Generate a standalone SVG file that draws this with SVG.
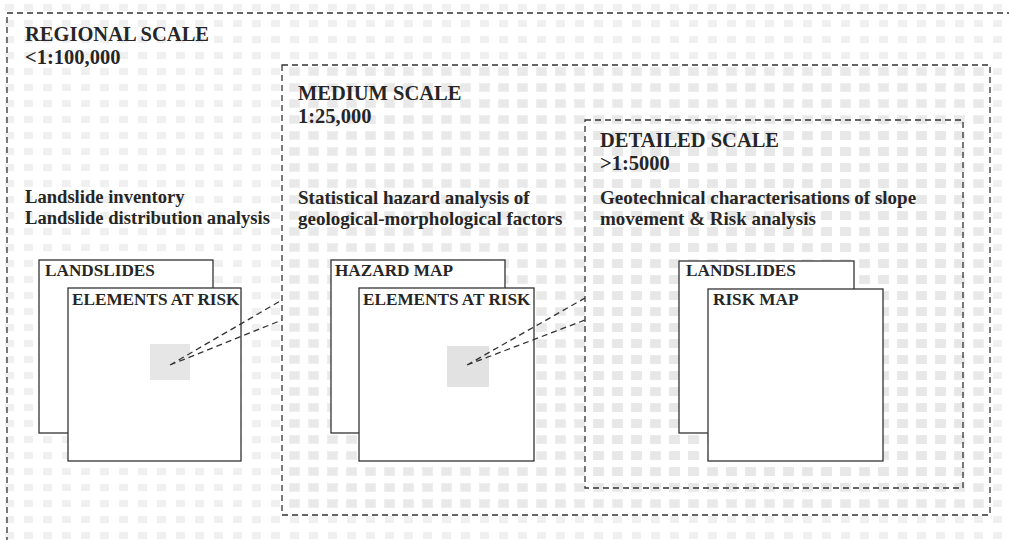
<svg xmlns="http://www.w3.org/2000/svg" width="1009" height="540" viewBox="0 0 1009 540">
<style>
.t{font-family:"Liberation Serif","DejaVu Serif",serif;font-weight:bold;fill:#262626}
.h{font-size:20.5px}
.d{font-size:19px}
.r{font-size:18.6px}
.b{font-size:17.2px}
.zone{fill:none;stroke:#333;stroke-width:1.3;stroke-dasharray:6 4}
.map{fill:#fff;stroke:#333;stroke-width:1.3}
.con{stroke:#333;stroke-width:1.3;stroke-dasharray:6 4;fill:none}
.spot{fill:#d6d6d6}
</style>
<defs>
<pattern id="dots" width="19" height="16" patternUnits="userSpaceOnUse">
<rect x="5" y="4" width="9" height="7" fill="#f0f0f0"/>
</pattern>
<pattern id="dots2" width="19" height="16" patternUnits="userSpaceOnUse">
<rect x="4" y="3" width="11" height="9" fill="#e6e6e6"/>
</pattern>
</defs>
<rect width="1009" height="540" fill="#fff"/>
<rect width="1009" height="540" fill="url(#dots)"/>
<rect x="282" y="65" width="708" height="450" fill="url(#dots2)" opacity="0.7"/>
<rect x="585" y="120" width="378" height="368" fill="url(#dots2)" opacity="0.6"/>

<g id="regional">
<rect class="zone" x="7" y="13" width="1010" height="535"/>
<text class="t h" x="25" y="41">REGIONAL SCALE</text>
<text class="t h" x="25" y="64">&lt;1:100,000</text>
<text class="t r" x="25" y="203">Landslide inventory</text>
<text class="t r" x="25" y="224">Landslide distribution analysis</text>
</g>
<g id="regional-landslides">
<rect class="map" x="39" y="260" width="174" height="173"/>
<text class="t b" x="45" y="276">LANDSLIDES</text>
</g>
<g id="regional-elements">
<rect class="map" x="68" y="288" width="173" height="173"/>
<text class="t b" x="72" y="305">ELEMENTS AT RISK</text>
<rect class="spot" x="150" y="344" width="40" height="36" opacity="0.6"/>
</g>

<g id="medium">
<rect class="zone" x="282" y="65" width="708" height="450"/>
<text class="t h" x="298" y="100">MEDIUM SCALE</text>
<text class="t h" x="298" y="123">1:25,000</text>
<text class="t d" x="298" y="204">Statistical hazard analysis of</text>
<text class="t d" x="298" y="225">geological-morphological factors</text>
</g>
<g id="medium-hazard">
<rect class="map" x="331" y="260" width="174" height="173"/>
<text class="t b" x="335" y="276">HAZARD MAP</text>
</g>
<g id="medium-elements">
<rect class="map" x="359" y="288" width="175" height="173"/>
<text class="t b" x="363" y="305">ELEMENTS AT RISK</text>
<rect class="spot" x="447" y="346" width="42" height="41" opacity="0.7"/>
</g>

<g id="detailed">
<rect class="zone" x="585" y="120" width="378" height="368"/>
<text class="t h" x="600" y="147">DETAILED SCALE</text>
<text class="t h" x="600" y="170">&gt;1:5000</text>
<text class="t d" x="600" y="204">Geotechnical characterisations of slope</text>
<text class="t d" x="600" y="225">movement &amp; Risk analysis</text>
</g>
<g id="detailed-landslides">
<rect class="map" x="679" y="261" width="175" height="172"/>
<text class="t b" x="686" y="276">LANDSLIDES</text>
</g>
<g id="detailed-risk">
<rect class="map" x="708" y="289" width="175" height="172"/>
<text class="t b" x="713" y="305">RISK MAP</text>
</g>

<g id="connectors">
<path class="con" d="M170 365 L282 300 M170 365 L282 320"/>
<path class="con" d="M467 365 L585 298 M467 365 L585 320"/>
</g>
</svg>
